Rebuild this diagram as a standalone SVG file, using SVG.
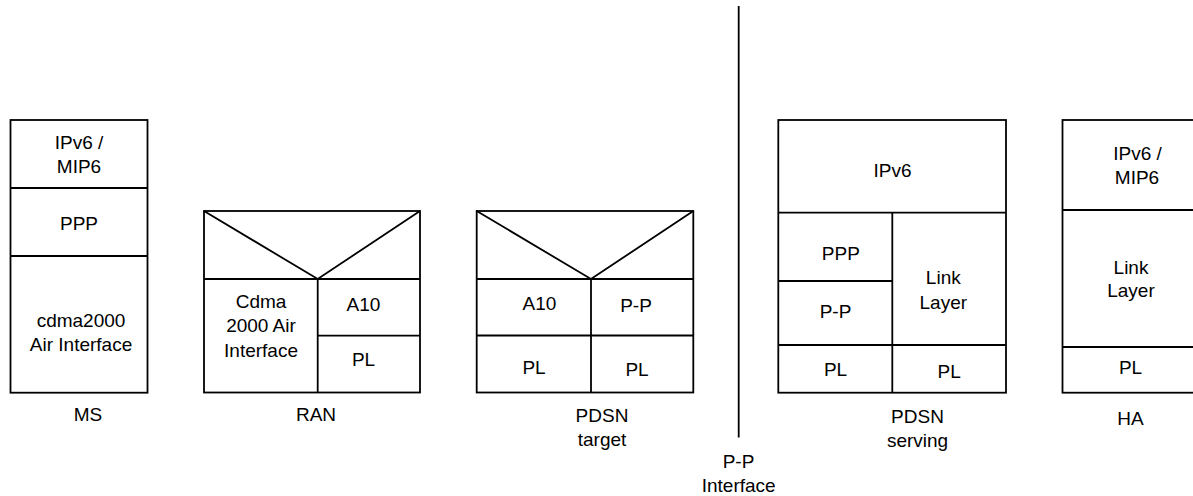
<svg xmlns="http://www.w3.org/2000/svg" width="1193" height="496" viewBox="0 0 1193 496">
<style>
  .box { fill: #ffffff; stroke: #000000; stroke-width: 1.8; }
  .ln { fill: none; stroke: #000000; stroke-width: 1.8; }
  text { font-family: "Liberation Sans", Arial, sans-serif; font-size: 19px; fill: #000000; text-anchor: middle; }
</style>
<rect x="0" y="0" width="1193" height="496" fill="#ffffff"/>

<g id="node-ms">
  <rect class="box" x="10.5" y="120" width="137" height="272.7"/>
  <line class="ln" x1="10.5" y1="188" x2="147.5" y2="188"/>
  <line class="ln" x1="10.5" y1="256" x2="147.5" y2="256"/>
  <text x="79" y="149">IPv6 /</text>
  <text x="79" y="173">MIP6</text>
  <text x="79" y="230">PPP</text>
  <text x="81" y="327">cdma2000</text>
  <text x="81" y="351">Air Interface</text>
  <text x="88" y="421">MS</text>
</g>

<g id="node-ran">
  <rect class="box" x="204" y="211" width="216" height="181.5"/>
  <polyline class="ln" points="204,211 317.7,279 420,211"/>
  <line class="ln" x1="204" y1="279" x2="420" y2="279"/>
  <line class="ln" x1="317.7" y1="279" x2="317.7" y2="392.5"/>
  <line class="ln" x1="317.7" y1="335.7" x2="420" y2="335.7"/>
  <text x="261" y="308">Cdma</text>
  <text x="261" y="332">2000 Air</text>
  <text x="261" y="356.5">Interface</text>
  <text x="363.5" y="310.5">A10</text>
  <text x="363.5" y="365.5">PL</text>
  <text x="316" y="421">RAN</text>
</g>

<g id="node-pdsn-target">
  <rect class="box" x="476.7" y="211" width="216.6" height="181.5"/>
  <polyline class="ln" points="476.7,211 591,279 693.3,211"/>
  <line class="ln" x1="476.7" y1="279" x2="693.3" y2="279"/>
  <line class="ln" x1="591" y1="279" x2="591" y2="392.5"/>
  <line class="ln" x1="476.7" y1="335.5" x2="693.3" y2="335.5"/>
  <text x="539.5" y="310">A10</text>
  <text x="636" y="311.5">P-P</text>
  <text x="534" y="374">PL</text>
  <text x="637" y="376">PL</text>
  <text x="602" y="422">PDSN</text>
  <text x="602" y="446">target</text>
</g>

<g id="connectors">
  <line class="ln" x1="738.7" y1="6" x2="738.7" y2="437.5"/>
</g>

<g id="label-pp-interface">
  <text x="738.5" y="467.5">P-P</text>
  <text x="738.7" y="492">Interface</text>
</g>

<g id="node-pdsn-serving">
  <rect class="box" x="778.3" y="120" width="227.7" height="272.7"/>
  <line class="ln" x1="778.3" y1="212.7" x2="1006" y2="212.7"/>
  <line class="ln" x1="892.3" y1="212.7" x2="892.3" y2="392.7"/>
  <line class="ln" x1="778.3" y1="281" x2="892.3" y2="281"/>
  <line class="ln" x1="778.3" y1="345" x2="1006" y2="345"/>
  <text x="892.5" y="176.7">IPv6</text>
  <text x="840.8" y="260">PPP</text>
  <text x="835.5" y="318.3">P-P</text>
  <text x="943.3" y="284">Link</text>
  <text x="943.3" y="308.5">Layer</text>
  <text x="835.5" y="375.5">PL</text>
  <text x="949.2" y="378.3">PL</text>
  <text x="917.5" y="423.3">PDSN</text>
  <text x="917.5" y="447">serving</text>
</g>

<g id="node-ha">
  <rect class="box" x="1062.5" y="120" width="150" height="272.7"/>
  <line class="ln" x1="1062.5" y1="210" x2="1212.5" y2="210"/>
  <line class="ln" x1="1062.5" y1="347" x2="1212.5" y2="347"/>
  <text x="1137.5" y="160">IPv6 /</text>
  <text x="1137" y="184">MIP6</text>
  <text x="1131" y="273.5">Link</text>
  <text x="1131" y="297.3">Layer</text>
  <text x="1130.5" y="374">PL</text>
  <text x="1130.5" y="425">HA</text>
</g>
</svg>
